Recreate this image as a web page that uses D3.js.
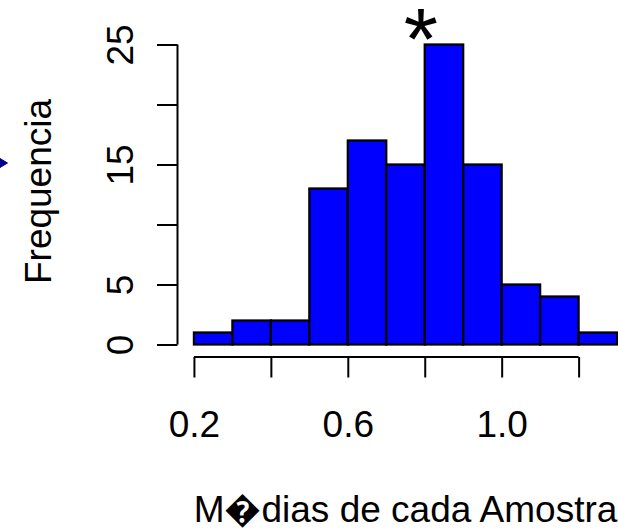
<!DOCTYPE html>
<html lang="en">
<head>
    <meta charset="UTF-8">
    <title>Histograma das Medias</title>
    <style>
        body {
            margin: 0;
            background: #fff;
        }
        svg {
            display: block;
            font-family: "Liberation Sans", Arial, sans-serif;
        }
    </style>
</head>
<body>
    <svg id="chart" width="618" height="531"></svg>
    <script src="https://d3js.org/d3.v7.min.js"></script>
    <script>
        // histogram bins (left edge), counts per bin
        const binStarts = [0.2, 0.3, 0.4, 0.5, 0.6, 0.7, 0.8, 0.9, 1.0, 1.1, 1.2];
        const binWidth = 0.1;
        const counts = [1, 2, 2, 13, 17, 15, 25, 15, 5, 4, 1];

        const xTicks = [0.2, 0.4, 0.6, 0.8, 1.0, 1.2];
        const xTickLabels = ['0.2', '', '0.6', '', '1.0', ''];
        const yTicks = [0, 5, 10, 15, 20, 25];
        const yTickLabels = ['0', '5', '', '15', '', '25'];

        const xTitle = 'M\uFFFDdias de cada Amostra';
        const yTitle = 'Frequencia';
        const starX = 0.79, starY = 27.15;

        const svg = d3.select('#chart');

        // plot region (runs off the right edge, as in the reference)
        const plot = { left: 177, top: 32.5, width: 457, height: 324 };

        const x = d3.scaleLinear()
            .domain([0.2 - 0.044, 1.3 + 0.044])
            .range([plot.left, plot.left + plot.width]);
        const y = d3.scaleLinear()
            .domain([-1, 26])
            .range([plot.top + plot.height, plot.top]);

        const fontSize = 37;

        // bars
        svg.append('g')
            .selectAll('rect')
            .data(counts)
            .enter()
            .append('rect')
            .attr('x', (d, i) => x(binStarts[i]))
            .attr('y', d => y(d))
            .attr('width', (d, i) => x(binStarts[i] + binWidth) - x(binStarts[i]))
            .attr('height', d => y(0) - y(d))
            .attr('fill', '#0000ff')
            .attr('stroke', '#000')
            .attr('stroke-width', 2.25);

        // x axis (R style: line only between first and last tick)
        const axisY = plot.top + plot.height + 0.5;
        const gx = svg.append('g')
            .attr('transform', `translate(0,${axisY})`)
            .call(d3.axisBottom(x)
                .tickValues(xTicks)
                .tickSize(20.5)
                .tickFormat((d, i) => xTickLabels[i]));
        gx.select('.domain').remove();
        gx.append('line')
            .attr('x1', x(xTicks[0]))
            .attr('x2', x(xTicks[xTicks.length - 1]))
            .attr('stroke', '#000')
            .attr('stroke-width', 2);
        gx.selectAll('.tick line').attr('stroke-width', 2);
        gx.selectAll('.tick text')
            .attr('y', 80)
            .attr('dy', null)
            .attr('fill', '#000')
            .style('font-size', fontSize + 'px')
            .style('font-family', '"Liberation Sans", Arial, sans-serif');

        // y axis
        const axisX = plot.left + 0.5;
        const gy = svg.append('g')
            .attr('transform', `translate(${axisX},0)`)
            .call(d3.axisLeft(y)
                .tickValues(yTicks)
                .tickSize(20.5)
                .tickFormat((d, i) => yTickLabels[i]));
        gy.select('.domain').remove();
        gy.append('line')
            .attr('y1', y(yTicks[0]))
            .attr('y2', y(yTicks[yTicks.length - 1]))
            .attr('stroke', '#000')
            .attr('stroke-width', 2);
        gy.selectAll('.tick line').attr('stroke-width', 2);
        gy.selectAll('.tick text')
            .attr('x', 0)
            .attr('y', -45)
            .attr('dy', null)
            .attr('transform', 'rotate(-90)')
            .attr('text-anchor', 'middle')
            .attr('fill', '#000')
            .style('font-size', fontSize + 'px')
            .style('font-family', '"Liberation Sans", Arial, sans-serif');

        // axis titles
        svg.append('text')
            .attr('x', plot.left + plot.width / 2)
            .attr('y', axisY + 165)
            .attr('text-anchor', 'middle')
            .style('font-size', fontSize + 'px')
            .text(xTitle);

        svg.append('text')
            .attr('transform', `translate(${axisX - 127},${plot.top + plot.height / 2 - 3}) rotate(-90)`)
            .attr('text-anchor', 'middle')
            .style('font-size', fontSize + 'px')
            .text(yTitle);

        // star over the tallest bar
        svg.append('text')
            .attr('x', x(starX))
            .attr('y', y(starY))
            .attr('dy', '0.57em')
            .attr('text-anchor', 'middle')
            .style('font-size', '88px')
            .text('*');

        // tip of an arrow coming in from the left edge
        svg.append('path')
            .attr('d', 'M-6,163 L7,163 M0,158.5 L7.5,163 L0,167.5 Z')
            .attr('fill', '#00008b')
            .attr('stroke', '#00008b')
            .attr('stroke-width', 1);
    </script>
</body>
</html>
